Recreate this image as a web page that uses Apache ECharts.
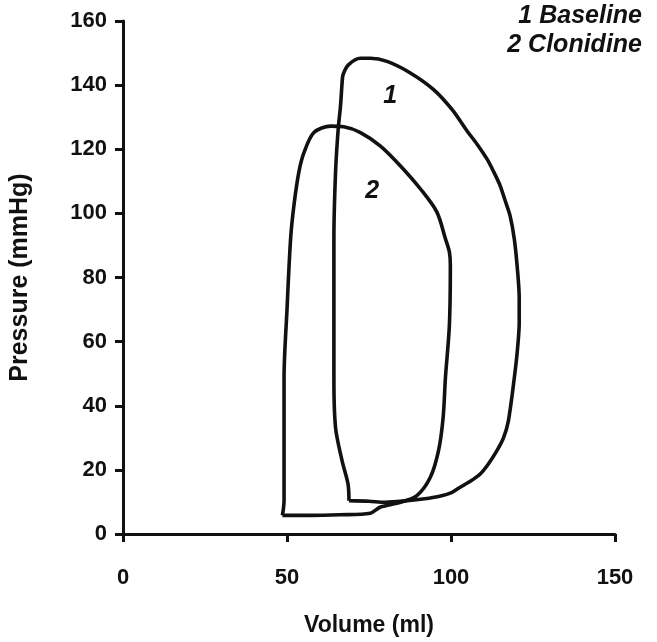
<!DOCTYPE html>
<html>
<head>
<meta charset="utf-8">
<script src="https://cdn.jsdelivr.net/npm/echarts@6/dist/echarts.min.js"></script>
<style>
html,body{margin:0;padding:0;background:#fff;}
#chart{width:657px;height:642px;}
</style>
</head>
<body>
<div id="chart"></div>
<script>
// Loop 1: Baseline (volume ml, pressure mmHg), traced around the loop
var baselineVol = [68.9, 75, 80, 86.6, 92, 96.2, 100, 102.8, 106, 108.9, 111.5, 114, 116, 117.5, 119.3, 120.3, 120.8, 120.8, 120.3, 119.3, 118, 116.5, 115, 113, 111, 108, 104.9, 100.3, 94.7, 87.6, 80.5, 75.4, 72.4, 68.8, 67.1, 66.8, 66.3, 65.6, 64.8, 64.3, 64.3, 64.8, 66.8, 68.6, 68.9];
var baselinePres = [10.4, 10.2, 9.9, 10.4, 11, 11.7, 12.8, 14.6, 16.5, 18.7, 22, 26, 30, 35.3, 48.7, 58, 66, 73.5, 82, 92, 99.3, 104, 108.6, 113, 116.9, 121.5, 125.7, 132.4, 138.6, 143.8, 147.4, 148.4, 148.4, 146.4, 143.3, 140.7, 133.4, 126.2, 112.8, 92.1, 48.7, 33.2, 22.8, 15.6, 10.4];
// Loop 2: Clonidine
var clonVol = [48.6, 57.2, 66, 75.4, 78.5, 84.6, 89.6, 93.7, 96.2, 97.6, 98.3, 99.5, 99.8, 99.5, 98.3, 95.7, 90.7, 84.6, 78.5, 72.4, 67.3, 63.3, 58.2, 55.2, 53.6, 52.1, 51.1, 50, 49.1, 49.1, 48.6];
var clonPres = [5.8, 5.8, 6, 6.5, 8.4, 9.9, 12, 17.7, 26, 36.3, 48.7, 65, 84, 88, 92.1, 100.4, 107.6, 114.8, 121, 125.2, 127, 127.2, 125.2, 119, 112.8, 102.4, 92.1, 70, 48.7, 10.4, 5.8];
// In-plot loop labels
var loopLabels = ['1', '2'];
var loopLabelVol = [81.5, 76];
var loopLabelPres = [136.5, 107];
var legendLines = ['1 Baseline', '2 Clonidine'];
var xTicks = [0, 50, 100, 150];
var yTicks = [0, 20, 40, 60, 80, 100, 120, 140, 160];

function zip(a, b) { return a.map(function (v, i) { return [v, b[i]]; }); }

var chart = echarts.init(document.getElementById('chart'), null, {renderer: 'canvas'});
var font = 'Liberation Sans, Arial, sans-serif';
chart.setOption({
  animation: false,
  grid: {left: 122, right: 42, top: 21, bottom: 105},
  xAxis: {
    type: 'value', min: xTicks[0], max: xTicks[xTicks.length - 1], interval: 50,
    name: 'Volume (ml)', nameLocation: 'middle', nameGap: 80,
    nameTextStyle: {fontFamily: font, fontWeight: 'bold', fontSize: 23, color: '#111'},
    axisLine: {lineStyle: {color: '#111', width: 3}},
    axisTick: {show: true, inside: false, length: 8, lineStyle: {color: '#111', width: 3}},
    axisLabel: {fontFamily: font, fontWeight: 'bold', fontSize: 22, color: '#111', margin: 33},
    splitLine: {show: false}
  },
  yAxis: {
    type: 'value', min: yTicks[0], max: yTicks[yTicks.length - 1], interval: 20,
    name: 'Pressure (mmHg)', nameLocation: 'middle', nameGap: 90, nameRotate: 90,
    nameTextStyle: {fontFamily: font, fontWeight: 'bold', fontSize: 25, color: '#111'},
    axisLine: {lineStyle: {color: '#111', width: 3}},
    axisTick: {show: true, inside: false, length: 8, lineStyle: {color: '#111', width: 3}},
    axisLabel: {fontFamily: font, fontWeight: 'bold', fontSize: 22, color: '#111', margin: 16},
    splitLine: {show: false}
  },
  series: [
    {
      type: 'line', data: zip(baselineVol, baselinePres), showSymbol: false, smooth: 0.3,
      lineStyle: {color: '#111', width: 3.6}
    },
    {
      type: 'line', data: zip(clonVol, clonPres), showSymbol: false, smooth: 0.3,
      lineStyle: {color: '#111', width: 3.6}
    },
    {
      type: 'scatter', symbolSize: 0, itemStyle: {color: '#000', opacity: 1},
      data: loopLabels.map(function (t, i) { return {value: [loopLabelVol[i], loopLabelPres[i]], name: t}; }),
      label: {show: true, position: 'inside', formatter: '{b}', fontFamily: font, fontWeight: 'bold',
              fontStyle: 'italic', fontSize: 25, color: '#111', opacity: 1}
    }
  ],
  graphic: legendLines.map(function (t, i) {
    return {type: 'text', right: 15, top: 4 + i * 29,
            style: {text: t, font: 'italic bold 25px ' + font, fill: '#111'}};
  })
});
</script>
</body>
</html>
